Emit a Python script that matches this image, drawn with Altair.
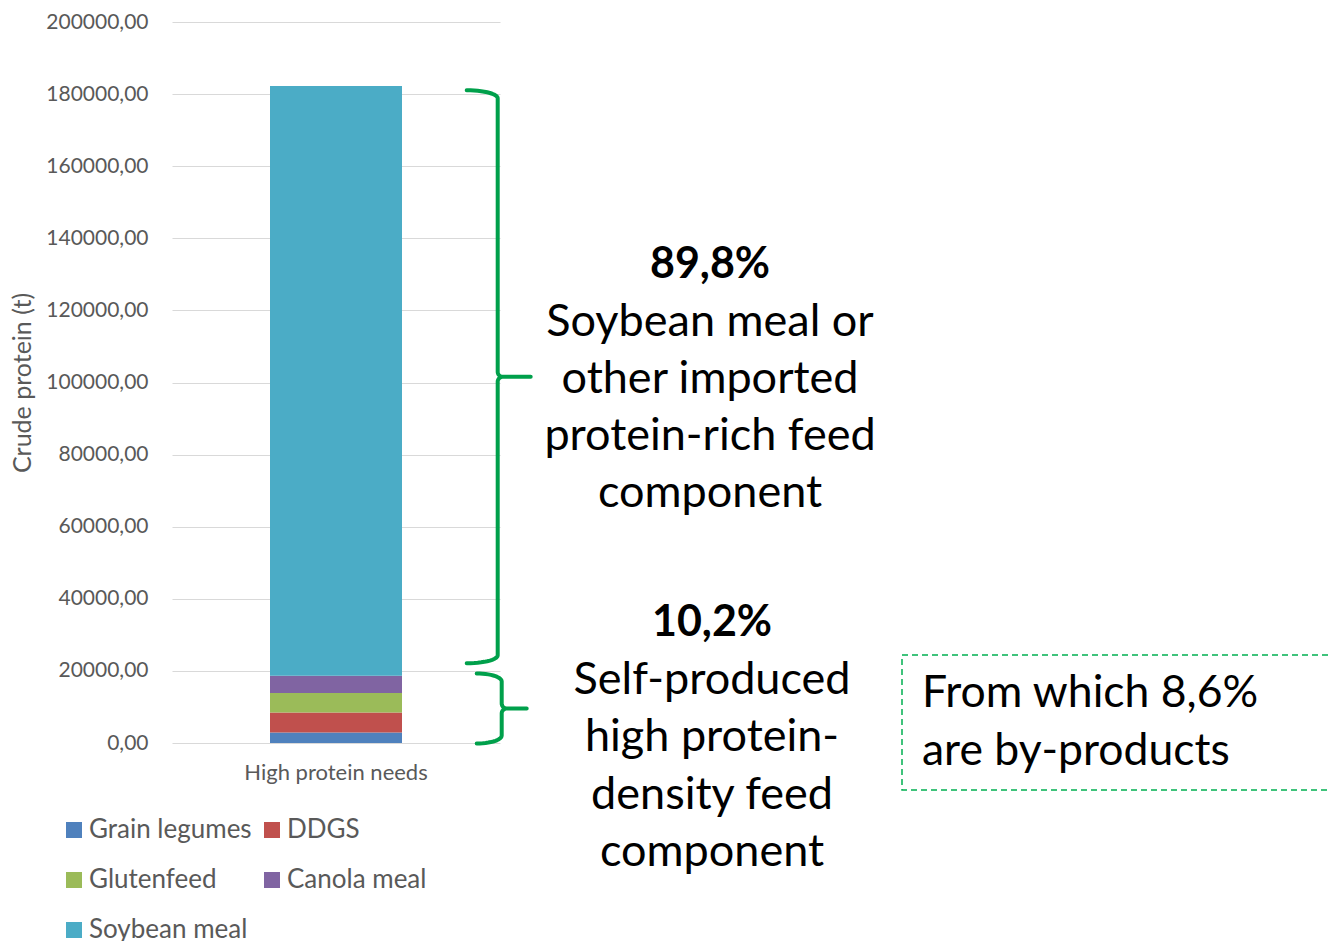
import numpy as np
import pandas as pd
import altair as alt

# ---- data -------------------------------------------------------------
categories = ["High protein needs"]
feeds = ["Grain legumes", "DDGS", "Glutenfeed", "Canola meal", "Soybean meal"]
crude_protein_t = [2900, 5550, 5450, 4750, 163600]
feed_colors = ["#4F81BD", "#C0504D", "#9BBB59", "#8064A2", "#4BACC6"]
by_products = ["DDGS", "Glutenfeed", "Canola meal"]
imported_feeds = ["Soybean meal"]
y_ticks = list(range(0, 200001, 20000))

# ---- layout constants ---------------------------------------------------
W, H = 328, 721
Y_MAX = 200000
UNIT = Y_MAX / H            # data units per pixel on the y scale
FONT = "Lato"
GREY = "#595959"
GREEN = "#00A04B"

total = sum(crude_protein_t)
imported = sum(v for f, v in zip(feeds, crude_protein_t) if f in imported_feeds)
self_produced = total - imported
by_prod = sum(v for f, v in zip(feeds, crude_protein_t) if f in by_products)


def pct(v):
    return f"{100 * v / total:.1f}".replace(".", ",") + "%"


bars = pd.DataFrame({
    "need": categories * len(feeds),
    "feed": feeds,
    "value": crude_protein_t,
    "idx": list(range(len(feeds))),
})


def brace(name, y_bot, y_top, x_end, x_spine, x_tip, hook=8, r=5):
    """Right-pointing curly brace; y in data units, x in plot pixels."""
    ry, rr = hook * UNIT, r * UNIT
    ym = (y_bot + y_top) / 2
    a = x_spine - x_end
    t = np.linspace(0, np.pi / 2, 14)
    pts = []
    pts += [(x_end + a * np.sin(s), y_top - ry + ry * np.cos(s)) for s in t]
    pts += [(x_spine + r - r * np.cos(s), ym + rr - rr * np.sin(s)) for s in t]
    pts += [(x_tip, ym)]
    pts += [(x_spine + r - r * np.sin(s), ym - rr + rr * np.cos(s)) for s in t]
    pts += [(x_end + a * np.cos(s), y_bot + ry - ry * np.sin(s)) for s in t]
    return pd.DataFrame({
        "brace": name,
        "i": range(len(pts)),
        "bx": [p[0] for p in pts],
        "by": [p[1] for p in pts],
    })


braces = pd.concat([
    brace("imported", self_produced + 12.5 * UNIT, total - 4.3 * UNIT, 294.7, 325.7, 358.7),
    brace("own", -0.5 * UNIT, self_produced + 2.3 * UNIT, 304.7, 329.7, 354.7),
])

y_scale = alt.Scale(domain=[0, Y_MAX], nice=False)
y_axis = alt.Axis(values=y_ticks, title="Crude protein (t)",
                  labelExpr="replace(format(datum.value, '.2f'), '.', ',')",
                  domain=False, ticks=False, tickSize=0, labelPadding=24,
                  labelFontSize=21, labelColor=GREY, labelFont=FONT,
                  grid=True, gridColor="#D9D9D9", gridWidth=1,
                  titleFontSize=25, titleColor=GREY, titleFont=FONT,
                  titleFontWeight="normal", titleAngle=270,
                  titleX=-150, titleY=H / 2, titleAlign="center",
                  titleBaseline="middle")

# ---- stacked bar ------------------------------------------------------
bar = alt.Chart(bars).mark_bar(size=132).encode(
    x=alt.X("need:N", title=None,
            axis=alt.Axis(labelAngle=0, domain=False, ticks=False, tickSize=0,
                          labelPadding=19, labelFontSize=22, labelColor=GREY,
                          labelFont=FONT, labelLimit=400)),
    y=alt.Y("value:Q", stack="zero", scale=y_scale, axis=y_axis),
    color=alt.Color("feed:N",
                    scale=alt.Scale(domain=feeds, range=feed_colors),
                    legend=alt.Legend(title=None, orient="none", legendX=-111,
                                      legendY=795, columns=2, direction="horizontal",
                                      padding=0, symbolType="square", symbolSize=256,
                                      symbolStrokeWidth=0, labelOffset=2,
                                      labelFontSize=26, labelColor=GREY,
                                      labelFont=FONT, rowPadding=24,
                                      columnPadding=7, labelLimit=400)),
    order=alt.Order("idx:Q", sort="ascending"),
)

# ---- braces -----------------------------------------------------------
brace_lines = alt.Chart(braces).mark_line(
    color=GREEN, strokeWidth=4, strokeCap="round", strokeJoin="round"
).encode(
    x=alt.X("bx:Q", scale=alt.Scale(domain=[0, W], nice=False, zero=False), axis=None),
    y=alt.Y("by:Q", scale=y_scale, axis=y_axis),
    detail="brace:N",
    order="i:Q",
)

# ---- annotations ------------------------------------------------------
def label(text, x, y, size, weight="normal", align="center", lh=57):
    return alt.Chart(pd.DataFrame({"t": [text]})).mark_text(
        font=FONT, fontSize=size, fontWeight=weight, color="black",
        align=align, baseline="middle", lineBreak="\n", lineHeight=lh,
    ).encode(text="t:N", x=alt.value(x), y=alt.value(y))


notes = [
    label(pct(imported), 538, 243, 43, "bold"),
    label("Soybean meal or\nother imported\nprotein-rich feed\ncomponent", 538, 300, 45),
    label(pct(self_produced), 540, 601, 43, "bold"),
    label("Self-produced\nhigh protein-\ndensity feed\ncomponent", 540, 658, 45, lh=57.3),
    label(f"From which {pct(by_prod)}\nare by-products", 750, 672, 44.5, align="left", lh=58),
]

box = alt.Chart(pd.DataFrame({"k": [0]})).mark_rect(
    fill="transparent", stroke="#00B050", strokeWidth=1.5, strokeDash=[6, 4]
).encode(x=alt.value(730), x2=alt.value(1180), y=alt.value(633), y2=alt.value(768))

chart = alt.layer(bar, brace_lines, box, *notes).resolve_scale(
    x="independent"
).properties(
    width=W, height=H,
    autosize=alt.AutoSizeParams(type="none"),
    padding={"left": 172, "top": 22, "right": 1328 - 172 - W, "bottom": 941 - 22 - H},
).configure_view(stroke=None)

chart.save("out.html", embed_options={"renderer": "svg", "actions": False})
